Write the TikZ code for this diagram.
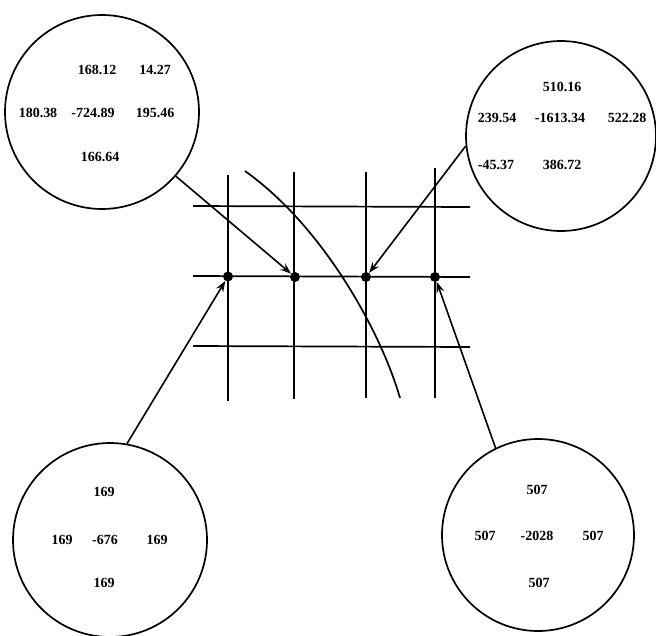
\documentclass[tikz,border=0pt]{standalone}
\usepackage{fontspec}
\setmainfont{Liberation Serif}
\usetikzlibrary{arrows.meta}
\begin{document}
\begin{tikzpicture}[x=1pt,y=-1pt,
  big/.style={draw,circle,line width=1.7pt,minimum size=194pt,inner sep=0pt},
  num/.style={inner sep=0pt,font=\fontsize{14}{16}\selectfont\bfseries},
  grid/.style={line width=1.7pt},
  dot/.style={circle,fill=black,inner sep=0pt,minimum size=10pt},
  arr/.style={line width=1.6pt,-{Stealth[length=11pt,width=8pt,inset=4pt]}}]
\useasboundingbox (0,0) rectangle (656,635);
% circles
\node[big] (c1) at (102,112) {};
\node[big,minimum size=190pt] (c2) at (561,136) {};
\node[big] (c3) at (110,540) {};
\node[big,minimum size=192pt] (c4) at (538,535) {};
% numbers top-left
\node[num] at (97,70) {168.12};
\node[num] at (155,70) {14.27};
\node[num] at (38,113) {180.38};
\node[num] at (93,113) {-724.89};
\node[num] at (155,113) {195.46};
\node[num] at (100,157) {166.64};
% numbers top-right
\node[num] at (562,87) {510.16};
\node[num] at (497,118) {239.54};
\node[num] at (560,118) {-1613.34};
\node[num] at (627,118) {522.28};
\node[num] at (496,165) {-45.37};
\node[num] at (562,165) {386.72};
% numbers bottom-left
\node[num] at (104,492) {169};
\node[num] at (62,540) {169};
\node[num] at (105,540) {-676};
\node[num] at (157,540) {169};
\node[num] at (104,583) {169};
% numbers bottom-right
\node[num] at (537,490) {507};
\node[num] at (485,536) {507};
\node[num] at (537,536) {-2028};
\node[num] at (593,536) {507};
\node[num] at (539,583) {507};
% grid
\coordinate (h1a) at (193,206); \coordinate (h1b) at (470,207);
\coordinate (h2a) at (193,276); \coordinate (h2b) at (470,277);
\coordinate (h3a) at (193,346); \coordinate (h3b) at (470,347);
\coordinate (v1a) at (228,175); \coordinate (v1b) at (228,401);
\coordinate (v2a) at (294,172); \coordinate (v2b) at (294,399);
\coordinate (v3a) at (366,172); \coordinate (v3b) at (366,398);
\coordinate (v4a) at (435,168); \coordinate (v4b) at (435,398);
\draw[grid] (h1a) -- (h1b);
\draw[grid] (h2a) -- (h2b);
\draw[grid] (h3a) -- (h3b);
\draw[grid] (v1a) -- (v1b);
\draw[grid] (v2a) -- (v2b);
\draw[grid] (v3a) -- (v3b);
\draw[grid] (v4a) -- (v4b);
\coordinate (cs) at (245,171); \coordinate (ce) at (400,398);
\draw[grid] (cs) .. controls (325,228) and (382,335) .. (ce);
% dots
\node[dot] (d1) at (228,276.5) {};
\node[dot] (d2) at (295,277) {};
\node[dot] (d3) at (366,277) {};
\node[dot] (d4) at (435,277) {};
% arrows
\draw[arr] (c1.-41) -- (d2);
\draw[arr] (c2.186) -- (d3);
\draw[arr] (c3.80) -- (d1);
\draw[arr] (c4.116) -- (d4);
\end{tikzpicture}
\end{document}
